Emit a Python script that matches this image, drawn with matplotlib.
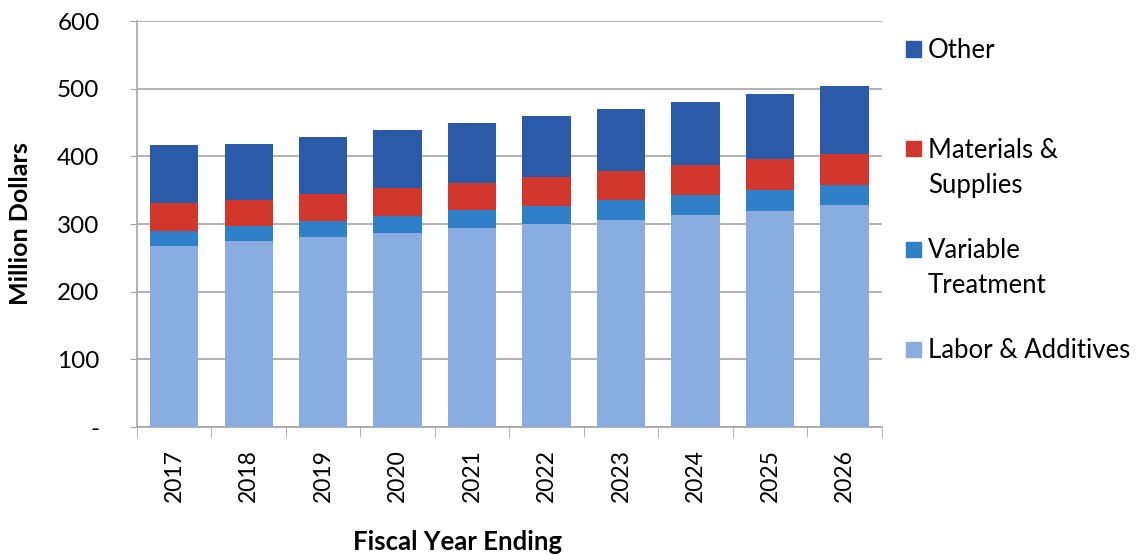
import matplotlib.pyplot as plt
import numpy as np
from matplotlib.patches import Rectangle

plt.rcParams['font.family'] = ['Lato', 'DejaVu Sans']

years = ['2017', '2018', '2019', '2020', '2021', '2022', '2023', '2024', '2025', '2026']
labor = [267, 275, 281, 287.5, 293.5, 300, 306, 313, 319.5, 327.5]
variable = [22.5, 22, 23, 24.5, 27, 27, 29, 30, 31.5, 30]
materials = [41.5, 38, 40, 41.5, 39.5, 42, 43, 44, 45, 45.5]
other = [85.5, 84, 85, 86, 89.5, 90.5, 92, 94, 96.5, 100.5]

names = ['Labor & Additives', 'Variable\nTreatment', 'Materials &\nSupplies', 'Other']
colors = ['#8aade0', '#2f80c6', '#d1372c', '#2b5aa8']

fig = plt.figure(figsize=(11.37, 5.55), dpi=100)
ax = fig.add_axes([0.1205, 0.2306, 0.655, 0.7314])

x = np.arange(len(years))
bottom = np.zeros(len(years))
for vals, c in zip([labor, variable, materials, other], colors):
    ax.bar(x, vals, width=0.65, bottom=bottom, color=c, zorder=3)
    bottom += np.array(vals)

ax.set_ylim(0, 600)
ax.set_xlim(-0.5, len(years) - 0.5)
ax.set_yticks(range(0, 601, 100))
ax.set_yticklabels(['-'] + [str(v) for v in range(100, 601, 100)], fontsize=17.5)
ax.yaxis.grid(True, color='#a6a6a6', lw=1.2, zorder=0)
ax.tick_params(axis='y', length=5, color='#a6a6a6', pad=22)

ax.set_xticks(x)
ax.set_xticklabels(years, rotation=90, fontsize=16.5)
ax.tick_params(axis='x', which='major', length=0, pad=16)
ax.set_xticks(np.arange(-0.5, len(years)), minor=True)
ax.tick_params(axis='x', which='minor', length=7, color='#a6a6a6')

for s in ['top', 'right']:
    ax.spines[s].set_visible(False)
for s in ['left', 'bottom']:
    ax.spines[s].set_color('#a6a6a6')
    ax.spines[s].set_linewidth(1.2)

ax.set_ylabel('Million Dollars', fontsize=18, fontweight='bold')
ax.yaxis.set_label_coords(-0.141, 0.5)
ax.set_xlabel('Fiscal Year Ending', fontsize=18.5, fontweight='bold')
ax.xaxis.set_label_coords(0.431, -0.254)

# legend, Excel style: top-aligned entries at even spacing
for i, (n, c) in enumerate(zip(names[::-1], colors[::-1])):
    yc = 1 - (49 + 100 * i) / 555
    fig.patches.append(Rectangle((906 / 1137, yc - 7.5 / 555), 15 / 1137, 15 / 555,
                                 transform=fig.transFigure, color=c, figure=fig))
    fig.text(928 / 1137, yc + 11 / 555, n, fontsize=18.5, va='top', ha='left',
             linespacing=1.5)

fig.savefig('out.png', dpi=100)
